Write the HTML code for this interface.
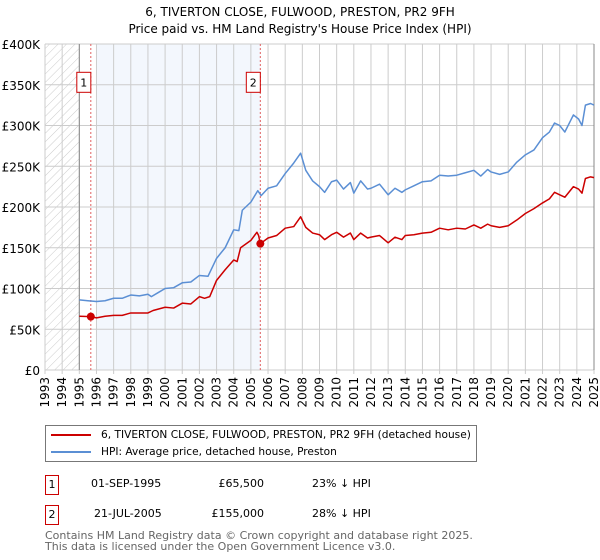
<!DOCTYPE html>
<html><head><meta charset="utf-8"><style>
body{margin:0;width:600px;height:560px;background:#fff;font-family:"DejaVu Sans","Liberation Sans",sans-serif;position:relative;overflow:hidden}
.t{position:absolute;font-size:11px;color:#000;white-space:nowrap;line-height:13px}
</style></head><body>
<div class="t" style="left:0;width:600px;text-align:center;top:4px;font-size:12px;line-height:17px">6, TIVERTON CLOSE, FULWOOD, PRESTON, PR2 9FH<br>Price paid vs. HM Land Registry's House Price Index (HPI)</div>
<svg id="chart" width="600" height="420" style="position:absolute;left:0;top:0" font-family="DejaVu Sans, Liberation Sans, sans-serif"></svg>
<div style="position:absolute;left:45px;top:425px;width:432px;height:37px;border:1px solid #777;box-sizing:border-box">
 <div style="position:absolute;left:5px;top:8px;width:40px;border-top:2px solid #cc0000"></div>
 <div class="t" style="left:55px;top:3px;font-size:10.6px">6, TIVERTON CLOSE, FULWOOD, PRESTON, PR2 9FH (detached house)</div>
 <div style="position:absolute;left:5px;top:25px;width:40px;border-top:2px solid #5b8fd4"></div>
 <div class="t" style="left:55px;top:20px;font-size:10.6px">HPI: Average price, detached house, Preston</div>
</div>
<div>
 <div class="t" style="left:45px;top:475px;width:14px;height:20px;border:1px solid #cc0000;box-sizing:border-box;text-align:center;line-height:18px">1</div>
 <div class="t" style="left:91px;top:477px">01-SEP-1995</div>
 <div class="t" style="left:200px;width:64px;text-align:right;top:477px">£65,500</div>
 <div class="t" style="left:312px;top:477px">23% ↓ HPI</div>
</div>
<div>
 <div class="t" style="left:45px;top:505px;width:14px;height:20px;border:1px solid #cc0000;box-sizing:border-box;text-align:center;line-height:18px">2</div>
 <div class="t" style="left:94px;top:507px">21-JUL-2005</div>
 <div class="t" style="left:200px;width:64px;text-align:right;top:507px">£155,000</div>
 <div class="t" style="left:312px;top:507px">28% ↓ HPI</div>
</div>
<div class="t" style="left:45px;top:531px;font-size:11px;color:#666;line-height:10.5px">Contains HM Land Registry data © Crown copyright and database right 2025.<br>This data is licensed under the Open Government Licence v3.0.</div>
<script>
const hpiYears=[1995,1995.5,1996,1996.5,1997,1997.5,1998,1998.5,1999,1999.2,1999.6,2000,2000.5,2001,2001.5,2002,2002.5,2003,2003.5,2004,2004.3,2004.5,2005,2005.4,2005.6,2006,2006.5,2007,2007.5,2007.9,2008.2,2008.6,2009,2009.3,2009.7,2010,2010.4,2010.8,2011,2011.4,2011.8,2012,2012.5,2013,2013.4,2013.8,2014,2014.5,2015,2015.5,2016,2016.5,2017,2017.5,2018,2018.4,2018.8,2019,2019.5,2020,2020.5,2021,2021.5,2022,2022.4,2022.7,2023,2023.3,2023.8,2024.1,2024.3,2024.5,2024.8,2025];
const hpiValues=[86,85,84,85,88,88,92,91,93,90,95,100,101,107,108,116,115,137,150,172,171,196,206,220,214,223,226,241,254,266,245,232,225,218,231,233,222,230,217,232,222,223,228,215,223,218,221,226,231,232,239,238,239,242,245,238,246,243,240,243,255,264,270,285,292,303,300,292,313,308,300,325,327,325];
const ppYears=[1995,1995.67,1996,1996.5,1997,1997.5,1998,1998.5,1999,1999.3,2000,2000.5,2001,2001.5,2002,2002.3,2002.6,2003,2003.5,2004,2004.2,2004.4,2005,2005.35,2005.45,2005.55,2006,2006.5,2007,2007.5,2007.9,2008.2,2008.6,2009,2009.3,2009.7,2010,2010.4,2010.8,2011,2011.4,2011.8,2012,2012.5,2013,2013.4,2013.8,2014,2014.5,2015,2015.5,2016,2016.5,2017,2017.5,2018,2018.4,2018.8,2019,2019.5,2020,2020.5,2021,2021.5,2022,2022.4,2022.7,2023,2023.3,2023.8,2024.1,2024.3,2024.5,2024.8,2025];
const ppValues=[66,65.5,64,66,67,67,70,70,70,73,77,76,82,81,90,88,90,110,123,135,133,150,159,169,165,155,162,165,174,176,188,175,168,166,160,166,169,163,168,160,168,162,163,165,156,163,160,165,166,168,169,174,172,174,173,178,174,179,177,175,177,184,192,198,205,210,218,215,212,225,222,217,235,237,236];
const sales=[{n:'1',y:1995.67,v:65.5},{n:'2',y:2005.55,v:155}];
const yTicks=[0,50,100,150,200,250,300,350,400];
const yTickLabels=['£0','£50K','£100K','£150K','£200K','£250K','£300K','£350K','£400K'];
const xTicks=[];for(let y=1993;y<=2025;y++)xTicks.push(y);
const X=y=>45+(y-1993)*(549/32), Y=v=>370-v*0.815;
const svg=document.getElementById('chart'),NS='http://www.w3.org/2000/svg';
function mk(t,a,p){const e=document.createElementNS(NS,t);for(const k in a)e.setAttribute(k,a[k]);(p||svg).appendChild(e);return e;}
const defs=mk('defs',{});
const pat=mk('pattern',{id:'hatch',width:6,height:6,patternUnits:'userSpaceOnUse',patternTransform:'rotate(45)'},defs);
mk('line',{x1:0,y1:0,x2:0,y2:6,stroke:'#ccc','stroke-width':1},pat);
let e=mk('rect',{x:X(1993),y:Y(400),width:X(1995)-X(1993),height:Y(0)-Y(400),fill:'url(#hatch)'});

e=mk('rect',{x:X(1996),y:Y(400),width:X(2005.55)-X(1996),height:Y(0)-Y(400),fill:'#eef3fc',opacity:0.7});

xTicks.forEach(y=>{const l=mk('line',{x1:X(y),x2:X(y),y1:Y(400),y2:Y(0)+4,stroke:'#ccc'});
 const t=mk('text',{x:0,y:0,'font-size':12,'text-anchor':'end',transform:`translate(${X(y)+4},${Y(0)+7}) rotate(-90)`});t.textContent=y;});
yTicks.forEach((v,i)=>{const l=mk('line',{x1:X(1993),x2:X(2025),y1:Y(v),y2:Y(v),stroke:'#ccc'});
 const t=mk('text',{x:40,y:Y(v)+5,'font-size':12,'text-anchor':'end'});t.textContent=yTickLabels[i];});
mk('line',{x1:X(1995),x2:X(1995),y1:Y(400),y2:Y(0),stroke:'#888'});
mk('line',{x1:X(2025),x2:X(2025),y1:Y(400),y2:Y(0),stroke:'#888'});
sales.forEach(s=>{const l=mk('line',{x1:X(s.y),x2:X(s.y),y1:Y(400),y2:Y(0),stroke:'#e06060','stroke-dasharray':'2,2'});
 const r=mk('rect',{x:X(s.y)-14,y:Y(353)-10,width:14,height:20,fill:'#fff',stroke:'#cc0000'});
 const t=mk('text',{x:X(s.y)-7,y:Y(353)+4,'font-size':11,'text-anchor':'middle'});t.textContent=s.n;});
function line(xs,vs,c,name){const p=mk('polyline',{points:xs.map((y,i)=>X(y)+','+Y(vs[i])).join(' '),fill:'none',stroke:c,'stroke-width':1.5,'stroke-linejoin':'round'});}
line(hpiYears,hpiValues,'#5b8fd4','hpi-line');
line(ppYears,ppValues,'#cc0000','price-paid-line');
sales.forEach(s=>{const c=mk('circle',{cx:X(s.y),cy:Y(s.v),r:4,fill:'#cc0000'});});
</script>
</body></html>
